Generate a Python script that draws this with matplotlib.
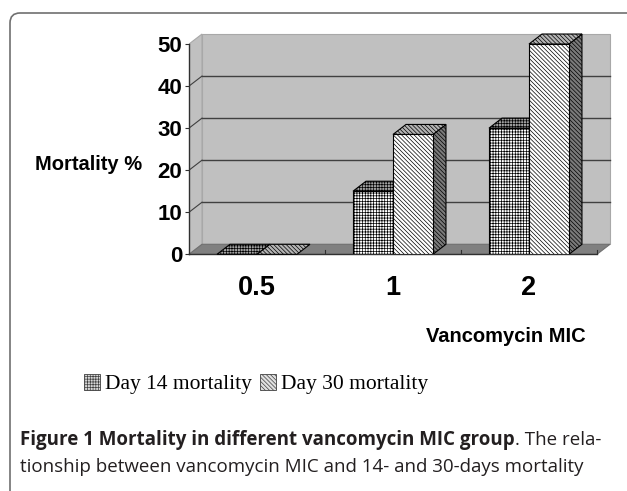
import matplotlib
matplotlib.use("Agg")
import matplotlib.pyplot as plt
from matplotlib.patches import Polygon, Patch, FancyBboxPatch

# data
mic_labels = ["0.5", "1", "2"]
day14 = [0, 15, 30]
day30 = [0, 28.5, 50]
yticks = [0, 10, 20, 30, 40, 50]
series_names = ["Day 14 mortality", "Day 30 mortality"]

# 3d look
DX = 0.0956   # depth in x data units
DY = 2.38     # depth in y data units
BW = 0.294
plt.rcParams["hatch.linewidth"] = 0.5

fig = plt.figure(figsize=(6.27, 4.91), dpi=100)
ax = fig.add_axes([189 / 627, (491 - 254.3) / 491, 424.3 / 627, 221.2 / 491])
ax.set_xlim(0, 3.12)
ax.set_ylim(0, 52.6)
for s in ax.spines.values():
    s.set_visible(False)
ax.patch.set_alpha(0)

n = len(mic_labels)
top = yticks[-1]

# walls and floor
ax.add_patch(Polygon([(DX, DY), (n + DX, DY), (n + DX, top + DY), (DX, top + DY)],
                     closed=True, fc="#c0c0c0", ec="#a8a8a8", lw=0.8, zorder=0))
ax.add_patch(Polygon([(0, 0), (0, top), (DX, top + DY), (DX, DY)],
                     closed=True, fc="#c0c0c0", ec="#a8a8a8", lw=0.8, zorder=0))
ax.add_patch(Polygon([(0, 0), (n, 0), (n + DX, DY), (DX, DY)],
                     closed=True, fc="#808080", ec="#707070", lw=0.8, zorder=1, clip_on=False))
for v in yticks[1:-1]:
    ax.plot([DX, n + DX], [v + DY, v + DY], color="#404040", lw=1, zorder=0.5)
    ax.plot([0, DX], [v, v + DY], color="#404040", lw=0.8, zorder=0.5)
ax.plot([0, 0], [0, top], color="#303030", lw=1, zorder=2, clip_on=False)
ax.plot([0, n], [0, 0], color="#303030", lw=1, zorder=2, clip_on=False)
for i in range(1, n + 1):
    ax.plot([i, i], [0, 1.0], color="#303030", lw=0.8, zorder=1.5)

# bars
centers = [i + 0.5 for i in range(n)]
styles = [
    dict(front="white", top="#a0a0a0", side="#909090", hatch="++++++"),
    dict(front="white", top="#b4b4b4", side="#7a7a7a", hatch="\\" * 8),
]
z = 3
for i, c in enumerate(centers):
    for k, vals in enumerate([day14, day30]):
        st = styles[k]
        x0 = c - BW + k * BW
        x1 = x0 + BW
        h = vals[i]
        if h > 0:
            ax.add_patch(Polygon([(x1, 0), (x1 + DX, DY), (x1 + DX, h + DY), (x1, h)],
                                 closed=True, fc=st["side"], ec="black", lw=0.8,
                                 hatch=st["hatch"], zorder=z))
        ax.add_patch(Polygon([(x0, h), (x1, h), (x1 + DX, h + DY), (x0 + DX, h + DY)],
                             closed=True, fc=st["top"], ec="black", lw=0.8,
                             hatch=st["hatch"], zorder=z, clip_on=False))
        if h > 0:
            b = ax.bar(x0, h, width=BW, align="edge", color=st["front"],
                       edgecolor="black", lw=0.8, hatch=st["hatch"])
            b.patches[0].set_zorder(z)
        z += 0.1

# ticks
ax.set_yticks(yticks)
ax.set_yticklabels([str(v) for v in yticks], fontsize=16, fontweight="bold",
                   family="Liberation Sans")
ax.tick_params(axis="y", length=3, width=0.8, pad=2, color="#303030")
ax.set_xticks(centers)
ax.set_xticklabels(mic_labels, fontsize=19.5, fontweight="bold", family="Liberation Sans")
ax.tick_params(axis="x", length=0, pad=15)

fig.text(35 / 627, 1 - 164 / 491, "Mortality %", fontsize=14.5, fontweight="bold",
         family="Liberation Sans", va="center", ha="left")
fig.text(586 / 627, 1 - 337 / 491, "Vancomycin MIC", fontsize=14.5, fontweight="bold",
         family="Liberation Sans", va="center", ha="right")

handles = [Patch(fc="#d8d8d8", ec="#404040", lw=0.6, hatch=styles[0]["hatch"]),
           Patch(fc="#e0e0e0", ec="#404040", lw=0.6, hatch=styles[1]["hatch"])]
fig.legend(handles, series_names, loc="center", bbox_to_anchor=(256 / 627, 1 - 384 / 491),
           ncol=2, frameon=False, handlelength=0.75, handleheight=0.75,
           handletextpad=0.25, columnspacing=0.35,
           prop={"family": "Liberation Serif", "size": 15.5})

# caption
fig.canvas.draw()
r = fig.canvas.get_renderer()
cap_color = "#231f20"
cap_size = 13.5
t1 = fig.text(20 / 627, 1 - 440 / 491, "Figure 1 Mortality in different vancomycin MIC group",
              fontsize=cap_size, fontweight="bold", family="Open Sans", va="center", color=cap_color)
bb = t1.get_window_extent(renderer=r)
fig.text(bb.x1 / 627, 1 - 440 / 491, ". The rela-", fontsize=cap_size, family="Open Sans",
         va="center", color=cap_color)
fig.text(20 / 627, 1 - 467 / 491, "tionship between vancomycin MIC and 14- and 30-days mortality",
         fontsize=cap_size, family="Open Sans", va="center", color=cap_color)

# card border
fig.patches.append(FancyBboxPatch((0.10, -0.3), 6.6, 5.08, boxstyle="round,pad=0,rounding_size=0.1",
                                  transform=fig.dpi_scale_trans, fc="none", ec="#707070", lw=1.2))

fig.savefig("out.png", dpi=100)
